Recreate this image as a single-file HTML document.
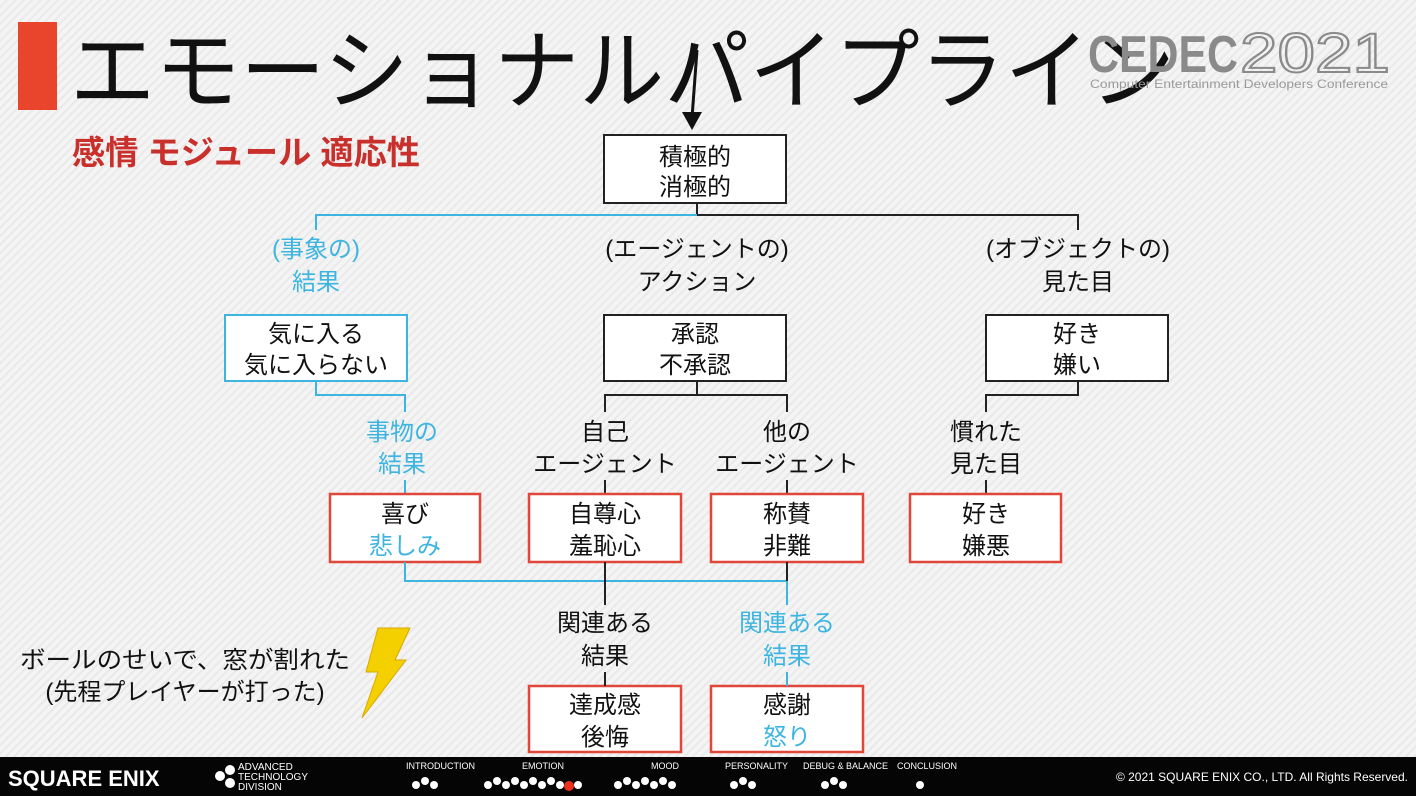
<!DOCTYPE html>
<html><head><meta charset="utf-8"><style>
html,body{margin:0;padding:0;width:1416px;height:796px;overflow:hidden;}
body{background:repeating-linear-gradient(135deg,#f4f4f4 0 4px,#e9e9e9 4px 6px);font-family:"Liberation Sans","Noto Sans CJK JP",sans-serif;}
svg text{font-family:"Liberation Sans","Noto Sans CJK JP",sans-serif;}
</style></head><body>
<svg width="1416" height="796" viewBox="0 0 1416 796" xmlns="http://www.w3.org/2000/svg" style="position:absolute;left:0;top:0">
<rect x="18" y="22" width="39" height="88" fill="#e8452c"/>
<text x="70" y="102" font-size="88" fill="#111" textLength="1105" lengthAdjust="spacingAndGlyphs">エモーショナルパイプライン</text>
<text x="72" y="164" font-size="33" fill="#c9302c" font-weight="bold" textLength="348" lengthAdjust="spacingAndGlyphs">感情 モジュール 適応性</text>
<!-- CEDEC logo -->
<text x="1088" y="72" font-size="52" fill="#8a8a8a" font-weight="bold" textLength="150" lengthAdjust="spacingAndGlyphs">CEDEC</text>
<text x="1240" y="72" font-size="56" fill="none" stroke="#8a8a8a" stroke-width="2" textLength="150" lengthAdjust="spacingAndGlyphs">2021</text>
<text x="1090" y="88" font-size="12" fill="#999" textLength="298" lengthAdjust="spacingAndGlyphs">Computer Entertainment Developers Conference</text>
<!-- arrow -->
<path d="M697 50 L692 118" stroke="#111" stroke-width="3" fill="none"/>
<path d="M682 112 L692 130 L702 112 Z" fill="#111"/>
<g font-size="24" text-anchor="middle" fill="#111">
<rect x="604" y="135" width="182" height="68" fill="#fff" stroke="#222" stroke-width="2"/>
<text x="695" y="165">積極的</text><text x="695" y="195">消極的</text>
<path d="M697 203 V215 H1078 V230" stroke="#222" stroke-width="2" fill="none"/>
<path d="M697 215 H316 V230" stroke="#3db5e0" stroke-width="2" fill="none"/>
<text x="316" y="257" fill="#3db5e0">(事象の)</text><text x="316" y="290" fill="#3db5e0">結果</text>
<text x="697" y="257">(エージェントの)</text><text x="697" y="290">アクション</text>
<text x="1078" y="257">(オブジェクトの)</text><text x="1078" y="290">見た目</text>
<rect x="225" y="315" width="182" height="66" fill="#fff" stroke="#3db5e0" stroke-width="2"/>
<text x="316" y="342">気に入る</text><text x="316" y="373">気に入らない</text>
<rect x="604" y="315" width="182" height="66" fill="#fff" stroke="#222" stroke-width="2"/>
<text x="695" y="342">承認</text><text x="695" y="373">不承認</text>
<rect x="986" y="315" width="182" height="66" fill="#fff" stroke="#222" stroke-width="2"/>
<text x="1077" y="342">好き</text><text x="1077" y="373">嫌い</text>
<path d="M316 381 V395 H405 V412" stroke="#3db5e0" stroke-width="2" fill="none"/>
<path d="M697 381 V395 M605 412 V395 H787 V412 M1078 381 V395 H986 V412" stroke="#222" stroke-width="2" fill="none"/>
<text x="402" y="440" fill="#3db5e0">事物の</text><text x="402" y="472" fill="#3db5e0">結果</text>
<text x="605" y="440">自己</text><text x="605" y="472">エージェント</text>
<text x="787" y="440">他の</text><text x="787" y="472">エージェント</text>
<text x="986" y="440">慣れた</text><text x="986" y="472">見た目</text>
<path d="M405 480 V494" stroke="#3db5e0" stroke-width="2"/>
<path d="M605 480 V494 M787 480 V494 M986 480 V494" stroke="#222" stroke-width="2"/>
<g fill="#fff" stroke="#e0463a" stroke-width="2.5">
<rect x="330" y="494" width="150" height="68"/><rect x="529" y="494" width="152" height="68"/>
<rect x="711" y="494" width="152" height="68"/><rect x="910" y="494" width="151" height="68"/>
<rect x="529" y="686" width="152" height="66"/><rect x="711" y="686" width="152" height="66"/>
</g>
<text x="405" y="522">喜び</text><text x="405" y="554" fill="#3db5e0">悲しみ</text>
<text x="605" y="522">自尊心</text><text x="605" y="554">羞恥心</text>
<text x="787" y="522">称賛</text><text x="787" y="554">非難</text>
<text x="986" y="522">好き</text><text x="986" y="554">嫌悪</text>
<path d="M405 562 V581 H787 V605" stroke="#3db5e0" stroke-width="2" fill="none"/>
<path d="M605 562 V605 M787 562 V581" stroke="#222" stroke-width="2" fill="none"/>
<text x="605" y="631">関連ある</text><text x="605" y="664">結果</text>
<text x="787" y="631" fill="#3db5e0">関連ある</text><text x="787" y="664" fill="#3db5e0">結果</text>
<path d="M605 672 V686" stroke="#222" stroke-width="2"/><path d="M787 672 V686" stroke="#3db5e0" stroke-width="2"/>
<text x="605" y="713">達成感</text><text x="605" y="745">後悔</text>
<text x="787" y="713">感謝</text><text x="787" y="745" fill="#3db5e0">怒り</text>
<text x="185" y="668" textLength="330" lengthAdjust="spacingAndGlyphs">ボールのせいで、窓が割れた</text>
<text x="185" y="700">(先程プレイヤーが打った)</text>
</g>
<polygon points="378,628 410,628 395,660 406,660 362,718 378,672 366,672" fill="#f5d000" stroke="#d9a800" stroke-width="1"/>
<rect x="0" y="757" width="1416" height="39" fill="#050505"/>
<text x="8" y="786" font-size="22" fill="#fff" font-weight="bold">SQUARE ENIX</text>
<g fill="#fff"><circle cx="220" cy="776" r="5"/><circle cx="230" cy="770" r="5"/><circle cx="230" cy="783" r="5"/></g>
<text x="238" y="770" font-size="10" fill="#fff">ADVANCED</text>
<text x="238" y="780" font-size="10" fill="#fff">TECHNOLOGY</text>
<text x="238" y="790" font-size="10" fill="#fff">DIVISION</text>
<g font-size="9" fill="#fff"><text x="406" y="769">INTRODUCTION</text><text x="522" y="769">EMOTION</text><text x="651" y="769">MOOD</text><text x="725" y="769">PERSONALITY</text><text x="803" y="769">DEBUG &amp; BALANCE</text><text x="897" y="769">CONCLUSION</text></g>
<g fill="#fff">
<circle cx="416" cy="785" r="4"/><circle cx="425" cy="781" r="4"/><circle cx="434" cy="785" r="4"/>
<circle cx="488" cy="785" r="4"/><circle cx="497" cy="781" r="4"/><circle cx="506" cy="785" r="4"/><circle cx="515" cy="781" r="4"/><circle cx="524" cy="785" r="4"/><circle cx="533" cy="781" r="4"/><circle cx="542" cy="785" r="4"/><circle cx="551" cy="781" r="4"/><circle cx="560" cy="785" r="4"/><circle cx="578" cy="785" r="4"/>
<circle cx="618" cy="785" r="4"/><circle cx="627" cy="781" r="4"/><circle cx="636" cy="785" r="4"/><circle cx="645" cy="781" r="4"/><circle cx="654" cy="785" r="4"/><circle cx="663" cy="781" r="4"/><circle cx="672" cy="785" r="4"/>
<circle cx="734" cy="785" r="4"/><circle cx="743" cy="781" r="4"/><circle cx="752" cy="785" r="4"/>
<circle cx="825" cy="785" r="4"/><circle cx="834" cy="781" r="4"/><circle cx="843" cy="785" r="4"/>
<circle cx="920" cy="785" r="4"/>
</g>
<circle cx="569" cy="786" r="5" fill="#e8301c"/>
<text x="1408" y="781" font-size="12" fill="#fff" text-anchor="end">© 2021 SQUARE ENIX CO., LTD. All Rights Reserved.</text>
</svg>
</body></html>
